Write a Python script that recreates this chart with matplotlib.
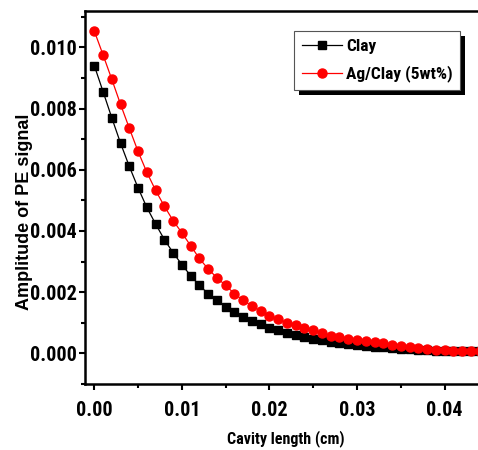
import matplotlib
matplotlib.use("Agg")
import matplotlib.pyplot as plt
from matplotlib.ticker import MultipleLocator, FormatStrFormatter
from matplotlib.patches import Rectangle
from matplotlib import font_manager

# cavity length (cm)
cavity = [0.000, 0.001, 0.002, 0.003, 0.004, 0.005, 0.006, 0.007, 0.008, 0.009,
          0.010, 0.011, 0.012, 0.013, 0.014, 0.015, 0.016, 0.017, 0.018, 0.019,
          0.020, 0.021, 0.022, 0.023, 0.024, 0.025, 0.026, 0.027, 0.028, 0.029,
          0.030, 0.031, 0.032, 0.033, 0.034, 0.035, 0.036, 0.037, 0.038, 0.039,
          0.040, 0.041, 0.042, 0.043, 0.044, 0.045]

clay = [0.00941, 0.00856, 0.00770, 0.00687, 0.00611, 0.00541, 0.00477, 0.00423, 0.00372, 0.00329,
        0.00290, 0.00254, 0.00222, 0.00195, 0.00173, 0.00152, 0.00134, 0.00120, 0.00107, 0.00095,
        0.00084, 0.00075, 0.00066, 0.00059, 0.00053, 0.00048, 0.00042, 0.00038, 0.00034, 0.00029,
        0.00026, 0.00023, 0.00021, 0.00019, 0.00017, 0.00015, 0.00013, 0.00012, 0.00010, 0.00009,
        0.00008, 0.00007, 0.00007, 0.00006, 0.00006, 0.00005]

ag_clay = [0.01054, 0.00976, 0.00896, 0.00814, 0.00736, 0.00660, 0.00592, 0.00533, 0.00481, 0.00434,
           0.00394, 0.00352, 0.00310, 0.00276, 0.00247, 0.00222, 0.00195, 0.00173, 0.00155, 0.00138,
           0.00122, 0.00111, 0.00100, 0.00091, 0.00083, 0.00075, 0.00065, 0.00058, 0.00052, 0.00048,
           0.00044, 0.00040, 0.00036, 0.00032, 0.00028, 0.00024, 0.00021, 0.00017, 0.00014, 0.00012,
           0.00010, 0.00009, 0.00008, 0.00007, 0.00007, 0.00006]

# a narrow bold sans for the horizontal texts (Arial Narrow look)
names = {f.name for f in font_manager.fontManager.ttflist}
narrow = [n for n in ['Arial Narrow', 'Liberation Sans Narrow', 'Roboto Condensed',
                      'Archivo Narrow', 'PT Sans Narrow', 'Fira Sans Condensed'] if n in names]
plt.rcParams['font.family'] = narrow[:1] + ['DejaVu Sans']
plt.rcParams['font.weight'] = 'bold'

fig = plt.figure(figsize=(4.78, 4.5), dpi=100)
ax = fig.add_axes([0.178, 0.147, 0.84, 0.829])
ax.spines['right'].set_visible(False)

ax.plot(cavity, clay, color='black', lw=0.9, marker='s', ms=5.5, label='Clay')
ax.plot(cavity, ag_clay, color='red', lw=0.9, marker='o', ms=6.5, label='Ag/Clay (5wt%)')

ax.set_xlim(-0.00105, 0.0448)
ax.set_ylim(-0.001, 0.0112)
ax.xaxis.set_major_locator(MultipleLocator(0.01))
ax.xaxis.set_minor_locator(MultipleLocator(0.005))
ax.yaxis.set_major_locator(MultipleLocator(0.002))
ax.yaxis.set_minor_locator(MultipleLocator(0.001))
ax.xaxis.set_major_formatter(FormatStrFormatter('%.2f'))
ax.yaxis.set_major_formatter(FormatStrFormatter('%.3f'))

ax.tick_params(which='both', direction='out', width=1.5, labelsize=14.5)
ax.tick_params(which='major', length=4)
ax.tick_params(which='minor', length=3)
ax.tick_params(axis='x', pad=8)
ax.tick_params(axis='y', pad=2)
for s in ax.spines.values():
    s.set_linewidth(1.8)

ax.set_xlabel('Cavity length (cm)', fontsize=11.5, fontweight='bold')
ax.xaxis.set_label_coords(0.5, -0.125)
ax.set_ylabel('Amplitude of PE signal', fontsize=13, fontweight='bold',
              family=['Liberation Sans', 'DejaVu Sans'])
ax.yaxis.set_label_coords(-0.13, 0.46)

leg = ax.legend(loc='upper left', bbox_to_anchor=(0.52, 0.945), fancybox=False,
                edgecolor='#555555', framealpha=1, fontsize=12.5, handlelength=2.3,
                handletextpad=0.25, borderpad=0.45, borderaxespad=0, labelspacing=0.65)
leg.get_frame().set_linewidth(0.8)

# solid black drop shadow behind the legend box
fig.canvas.draw()
bb = leg.get_window_extent()
shadow = Rectangle((bb.x0 + 5, bb.y0 - 5), bb.width, bb.height, transform=None,
                   facecolor='black', edgecolor='none', zorder=4.9)
ax.add_artist(shadow)

fig.savefig('out.png', dpi=100)
